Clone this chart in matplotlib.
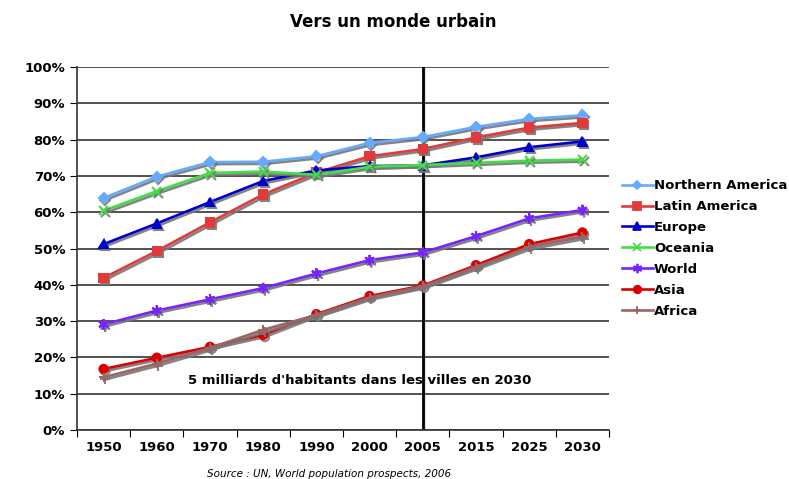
import matplotlib
matplotlib.use("Agg")
import matplotlib.pyplot as plt
import matplotlib.patheffects as pe
from matplotlib.lines import Line2D
import numpy as np

# categories and values (% urban population)
years = ['1950', '1960', '1970', '1980', '1990', '2000', '2005', '2015', '2025', '2030']

northern_america = [63.9, 69.8, 73.8, 73.9, 75.4, 79.1, 80.7, 83.5, 85.7, 86.7]
latin_america = [41.9, 49.3, 57.2, 64.9, 70.9, 75.4, 77.4, 80.6, 83.3, 84.6]
europe = [51.2, 56.9, 62.8, 68.6, 71.5, 72.7, 72.9, 75.1, 77.9, 79.5]
oceania = [60.4, 65.8, 70.8, 71.2, 70.3, 72.5, 73.0, 73.6, 74.2, 74.5]
world = [29.1, 32.9, 36.0, 39.1, 43.1, 46.8, 48.9, 53.4, 58.3, 60.6]
asia = [16.8, 19.9, 22.9, 26.2, 31.9, 36.9, 39.8, 45.4, 51.2, 54.4]
africa = [14.5, 18.3, 22.6, 27.6, 31.7, 36.5, 39.6, 44.9, 50.4, 53.2]

series = [
    ('Northern America', northern_america, '#66aaff', 'D', 5),
    ('Latin America', latin_america, '#e03a3a', 's', 6),
    ('Europe', europe, '#0000cc', '^', 6),
    ('Oceania', oceania, '#44dd44', 'x', 6.5),
    ('World', world, '#7722ff', (6, 2, 0), 7.5),
    ('Asia', asia, '#dd0000', 'o', 6),
    ('Africa', africa, '#996666', '+', 7),
]

fig = plt.figure(figsize=(7.89, 4.79), dpi=100)
ax = fig.add_axes([0.0976, 0.1023, 0.6743, 0.7578])

x = np.arange(len(years)) + 0.5
shadow = [pe.SimpleLineShadow(offset=(1.2, -1.5), shadow_color='#777777', alpha=0.9), pe.Normal()]

handles = []
for name, vals, color, marker, ms in series:
    ax.plot(x, vals, color=color, lw=1.9, marker=marker, ms=ms, mew=1.5,
            mfc=color, mec=color, path_effects=shadow)
    handles.append(Line2D([], [], color=color, lw=1.9, marker=marker, ms=ms * 0.9,
                          mew=1.3, mfc=color, mec=color, label=name))

ax.set_xlim(0, len(years))
ax.set_ylim(0, 100)
ax.set_yticks(np.arange(0, 101, 10))
ax.set_yticklabels(['%d%%' % v for v in range(0, 101, 10)], fontweight='bold', fontsize=9.5)
ax.set_xticks(np.arange(0, len(years) + 1))
ax.set_xticklabels([])
ax.set_xticks(x, minor=True)
ax.set_xticklabels(years, minor=True, fontweight='bold', fontsize=9.5)
ax.tick_params(axis='x', which='minor', length=0, pad=8)
ax.tick_params(axis='x', which='major', length=5, direction='out')
ax.tick_params(axis='y', length=5, direction='out')

ax.grid(axis='y', color='#333333', lw=1.2)
ax.set_axisbelow(True)
for s in ['top', 'right']:
    ax.spines[s].set_visible(False)
ax.spines['left'].set_color('#333333')
ax.spines['bottom'].set_color('#333333')
ax.spines['left'].set_linewidth(1.2)
ax.spines['bottom'].set_linewidth(1.2)

# 2005 marker line
ax.axvline(6.5, color='black', lw=2, zorder=1,
           path_effects=[pe.SimpleLineShadow(offset=(1, -1), shadow_color='#888888'), pe.Normal()])

ax.text(0.531, 0.135, "5 milliards d'habitants dans les villes en 2030", transform=ax.transAxes,
        ha='center', va='center', fontweight='bold', fontsize=9.5)

fig.text(0.498, 0.955, 'Vers un monde urbain', ha='center', va='center', fontweight='bold', fontsize=12)
fig.text(0.417, 0.0, 'Source : UN, World population prospects, 2006', ha='center', va='bottom',
         style='italic', fontsize=7.5)

ax.legend(handles=handles, loc='center left', bbox_to_anchor=(1.015, 0.5), frameon=False,
          prop={'weight': 'bold', 'size': 9.5}, handlelength=2.3, handletextpad=0.1,
          labelspacing=0.6, borderaxespad=0)

fig.savefig('out.png', dpi=100)
